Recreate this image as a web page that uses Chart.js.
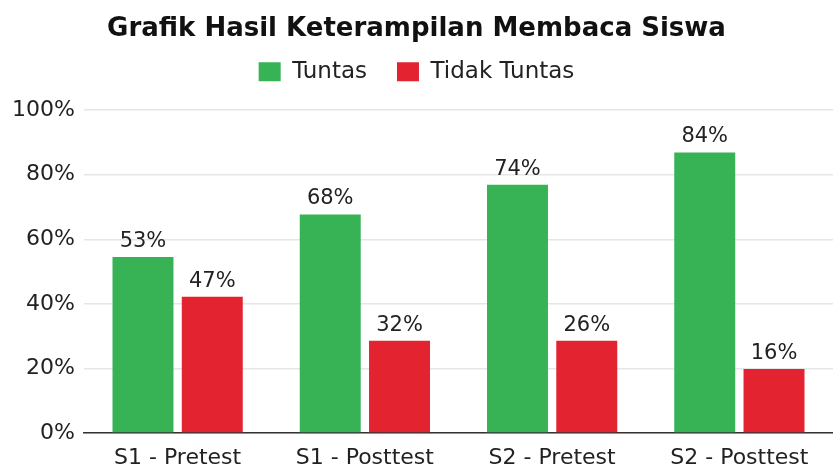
<!DOCTYPE html>
<html lang="id">
<head>
  <meta charset="UTF-8">
  <title>Grafik Hasil Keterampilan Membaca Siswa</title>
  <style>
    html, body { margin: 0; padding: 0; background: #fff; }
    #wrap { width: 833px; height: 469px; }
  </style>
</head>
<body>
  <div id="wrap"><canvas id="chart" width="833" height="469"></canvas></div>

  <script src="https://cdn.jsdelivr.net/npm/chart.js"></script>
  <script>
    const categories = ['S1 - Pretest', 'S1 - Posttest', 'S2 - Pretest', 'S2 - Posttest'];
    // bar heights as drawn in the picture (%)
    const tuntas = [54.5, 67.7, 76.9, 86.9];
    const tidakTuntas = [42.2, 28.6, 28.6, 19.8];
    // value labels printed above the bars
    const tuntasLabels = ['53%', '68%', '74%', '84%'];
    const tidakTuntasLabels = ['47%', '32%', '26%', '16%'];
    const yTicks = [0, 20, 40, 60, 80, 100];

    const font = 'DejaVu Sans';

    // pushes the plot below the legend
    const legendSpace = {
      id: 'legendSpace',
      beforeInit(chart) {
        const fit = chart.legend.fit;
        chart.legend.fit = function () {
          fit.bind(chart.legend)();
          this.height += 17;
        };
      }
    };

    const barLabels = {
      id: 'barLabels',
      afterDatasetsDraw(chart) {
        const ctx = chart.ctx;
        const texts = [tuntasLabels, tidakTuntasLabels];
        ctx.save();
        ctx.font = '21px "' + font + '"';
        ctx.fillStyle = '#222';
        ctx.textAlign = 'center';
        ctx.textBaseline = 'bottom';
        chart.data.datasets.forEach((ds, i) => {
          chart.getDatasetMeta(i).data.forEach((bar, j) => {
            ctx.fillText(texts[i][j], bar.x, bar.y - 5);
          });
        });
        ctx.restore();
      }
    };

    new Chart(document.getElementById('chart'), {
      type: 'bar',
      data: {
        labels: categories,
        datasets: [
          { label: 'Tuntas', data: tuntas, backgroundColor: '#37b355' },
          { label: 'Tidak Tuntas', data: tidakTuntas, backgroundColor: '#e3232f' }
        ]
      },
      options: {
        responsive: false,
        animation: false,
        devicePixelRatio: 1,
        categoryPercentage: 0.74,
        barPercentage: 0.88,
        layout: { padding: 0 },
        plugins: {
          title: {
            display: true,
            text: 'Grafik Hasil Keterampilan Membaca Siswa',
            color: '#111',
            font: { family: font, size: 26, weight: 'bold' },
            padding: { top: 14, bottom: -15 }
          },
          legend: {
            labels: {
              color: '#222',
              font: { family: font, size: 23 },
              boxWidth: 22,
              boxHeight: 19,
              padding: 30
            }
          },
          tooltip: { enabled: false }
        },
        scales: {
          x: {
            afterFit(scale) { scale.height = 36; },
            grid: { display: false, drawTicks: false },
            border: { display: true, color: '#333', width: 1.5 },
            ticks: { color: '#222', font: { family: font, size: 22 }, padding: 12 }
          },
          y: {
            min: 0,
            max: 100,
            afterFit(scale) { scale.width = 84; },
            afterBuildTicks(scale) { scale.ticks = yTicks.map(v => ({ value: v })); },
            grid: { color: '#e6e6e6', lineWidth: 1.5, drawTicks: false },
            border: { display: false },
            ticks: {
              color: '#222',
              font: { family: font, size: 22 },
              padding: 9,
              callback: v => v + '%'
            }
          }
        }
      },
      plugins: [legendSpace, barLabels]
    });
  </script>
</body>
</html>
